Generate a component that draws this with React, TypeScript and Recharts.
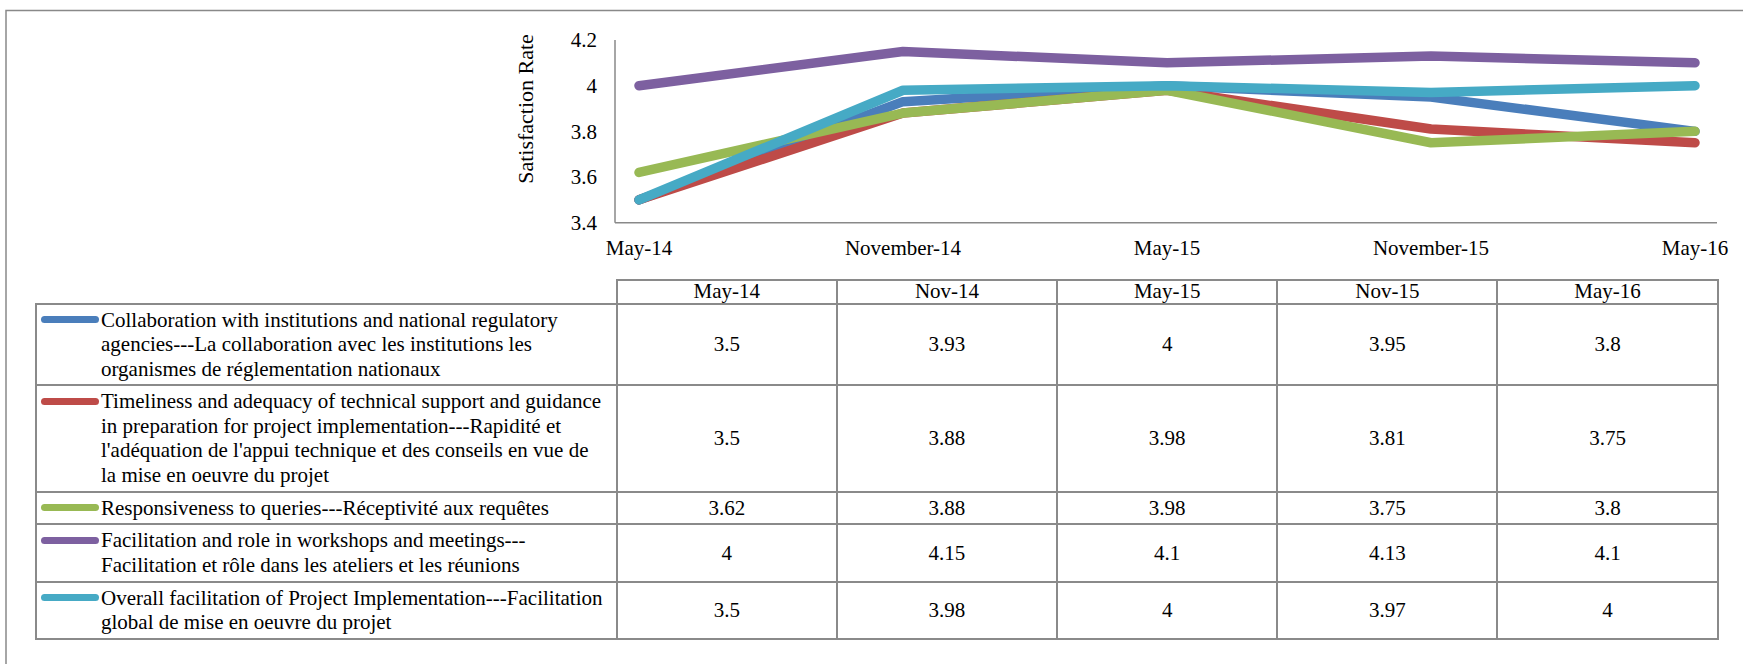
import React from 'react';
import { LineChart, Line, XAxis, YAxis } from 'recharts';

const categories = ['May-14', 'November-14', 'May-15', 'November-15', 'May-16'];
const tableHeaders = ['May-14', 'Nov-14', 'May-15', 'Nov-15', 'May-16'];
const yTicks = [3.4, 3.6, 3.8, 4, 4.2];

const seriesNames = [
  'Collaboration with institutions and national regulatory agencies---La collaboration avec les institutions les organismes de réglementation nationaux',
  "Timeliness and adequacy of technical support and guidance in preparation for project implementation---Rapidité et l'adéquation de l'appui technique et des conseils en vue de la mise en oeuvre du projet",
  'Responsiveness to queries---Réceptivité aux requêtes',
  'Facilitation and role in workshops and meetings---Facilitation et rôle dans les ateliers et les réunions',
  'Overall facilitation of Project Implementation---Facilitation global de mise en oeuvre du projet',
];
const seriesColors = ['#4A7EBB', '#BE4B48', '#98B954', '#7D60A0', '#46AAC5'];

const collaboration = [3.5, 3.93, 4, 3.95, 3.8];
const timeliness = [3.5, 3.88, 3.98, 3.81, 3.75];
const responsiveness = [3.62, 3.88, 3.98, 3.75, 3.8];
const facilitationRole = [4, 4.15, 4.1, 4.13, 4.1];
const overallFacilitation = [3.5, 3.98, 4, 3.97, 4];

const seriesValues = [collaboration, timeliness, responsiveness, facilitationRole, overallFacilitation];

const data = categories.map((c, i) => {
  const row: any = { cat: c };
  seriesValues.forEach((vals, s) => {
    row['s' + s] = vals[i];
  });
  return row;
});

const FONT = '"Liberation Serif", "Times New Roman", serif';
const AXIS_GRAY = '#898989';
const BORDER = '2px solid #8a8a8a';

const YTitle = (props: any) => {
  const vb = props.viewBox || { x: 0, y: 40, width: 615, height: 182.7 };
  const cx = vb.x + vb.width - 90;
  const cy = vb.y + 69;
  return (
    <text
      x={cx}
      y={cy}
      transform={`rotate(-90 ${cx} ${cy})`}
      textAnchor="middle"
      dominantBaseline="central"
      fontSize={22}
      fontFamily={FONT}
      fill="#000"
    >
      Satisfaction Rate
    </text>
  );
};

export default function App() {
  return (
    <div
      style={{
        position: 'absolute',
        left: 0,
        top: 0,
        width: 1743,
        height: 664,
        background: '#fff',
        overflow: 'hidden',
        fontFamily: FONT,
      }}
    >
      <svg style={{ position: 'absolute', left: 0, top: 0 }} width={1743} height={664}>
        <rect x={6} y={10.5} width={1800} height={700} fill="none" stroke={AXIS_GRAY} strokeWidth={1.5} />
      </svg>
      <div style={{ position: 'absolute', left: 0, top: 0 }}>
        <LineChart width={1743} height={664} data={data} margin={{ top: 40, right: 26, bottom: 411.3, left: 0 }}>
          <XAxis
            dataKey="cat"
            padding={{ left: 24, right: 22 }}
            axisLine={{ stroke: AXIS_GRAY, strokeWidth: 1.5 }}
            tickLine={false}
            tickSize={0}
            tickMargin={17}
            height={30}
            interval={0}
            tick={{ fill: '#000', fontSize: 21, fontFamily: FONT }}
          />
          <YAxis
            domain={[3.4, 4.2]}
            ticks={yTicks}
            width={615}
            axisLine={{ stroke: AXIS_GRAY, strokeWidth: 1.5 }}
            tickLine={false}
            tickSize={0}
            tickMargin={18}
            tick={{ fill: '#000', fontSize: 21, fontFamily: FONT }}
            label={<YTitle />}
          />
          {seriesValues.map((_, s) => (
            <Line
              key={s}
              type="linear"
              dataKey={'s' + s}
              stroke={seriesColors[s]}
              strokeWidth={9.5}
              strokeLinecap="round"
              strokeLinejoin="round"
              dot={false}
              activeDot={false}
              isAnimationActive={false}
            />
          ))}
        </LineChart>
      </div>
      <table
        style={{
          position: 'absolute',
          left: 35,
          top: 279.3,
          borderCollapse: 'collapse',
          tableLayout: 'fixed',
          width: 1681.7,
          fontSize: 21,
          lineHeight: '24.4px',
          color: '#000',
          fontFamily: FONT,
        }}
      >
        <colgroup>
          <col style={{ width: 580.7 }} />
          {tableHeaders.map((h) => (
            <col key={h} style={{ width: 220.2 }} />
          ))}
        </colgroup>
        <thead>
          <tr style={{ height: 23.4 }}>
            <th style={{ border: 'none', padding: 0 }}></th>
            {tableHeaders.map((h) => (
              <th
                key={h}
                style={{
                  border: BORDER,
                  padding: 0,
                  fontWeight: 'normal',
                  lineHeight: '21px',
                  textAlign: 'center',
                  fontFamily: FONT,
                }}
              >
                {h}
              </th>
            ))}
          </tr>
        </thead>
        <tbody>
          {seriesNames.map((name, s) => (
            <tr key={s}>
              <td
                style={{
                  border: BORDER,
                  padding: '3px 10px 3.5px 64px',
                  position: 'relative',
                  verticalAlign: 'top',
                  textAlign: 'left',
                  fontFamily: FONT,
                }}
              >
                <span
                  style={{
                    position: 'absolute',
                    left: 4,
                    top: 11.5,
                    width: 58,
                    height: 7,
                    borderRadius: 3.5,
                    background: seriesColors[s],
                  }}
                />
                {name}
              </td>
              {seriesValues[s].map((v, i) => (
                <td
                  key={i}
                  style={{
                    border: BORDER,
                    padding: 0,
                    textAlign: 'center',
                    verticalAlign: 'middle',
                    fontFamily: FONT,
                  }}
                >
                  {v}
                </td>
              ))}
            </tr>
          ))}
        </tbody>
      </table>
    </div>
  );
}
